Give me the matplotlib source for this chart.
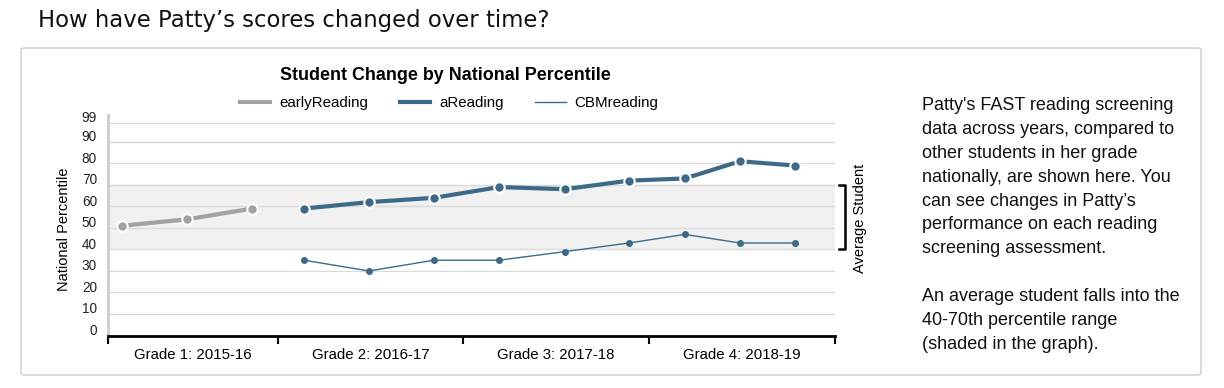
import matplotlib.pyplot as plt
import matplotlib.transforms as mtransforms
from matplotlib.patches import FancyBboxPatch
from matplotlib.lines import Line2D

# Data (x = position along the timeline, 10 units ~ 186 px)
early_x = [1.4, 7.9, 14.4]
early_y = [51, 54, 59]

a_x = [19.6, 26.1, 32.6, 39.1, 45.7, 52.1, 57.7, 63.2, 68.7]
a_y = [59, 62, 64, 69, 68, 72, 73, 81, 79]

cbm_x = [19.6, 26.1, 32.6, 39.1, 45.7, 52.1, 57.7, 63.2, 68.7]
cbm_y = [35, 30, 35, 35, 39, 43, 47, 43, 43]

grade_edges = [0, 17.0, 35.5, 54.1, 72.7]
grade_labels = ["Grade 1: 2015-16", "Grade 2: 2016-17", "Grade 3: 2017-18", "Grade 4: 2018-19"]
y_ticks = [0, 10, 20, 30, 40, 50, 60, 70, 80, 90, 99]

gray = "#a2a2a2"
blue = "#3d6a88"
font = "Liberation Sans"

fig = plt.figure(figsize=(12.24, 3.88), dpi=100)

# outer card
card = FancyBboxPatch((21 / 1224, 1 - 375 / 388), 1180 / 1224, 327 / 388,
                      boxstyle="round,pad=0,rounding_size=0.004",
                      transform=fig.transFigure, facecolor="none",
                      edgecolor="#d4d4d4", linewidth=1.2, zorder=-5)
fig.patches.append(card)

fig.text(38 / 1224, 1 - 20 / 388, "How have Patty\u2019s scores changed over time?",
         fontsize=16.4, family="DejaVu Sans", va="center", ha="left", color="#111111")

ax = fig.add_axes([108 / 1224, 1 - 335.5 / 388, 727 / 1224, 220.5 / 388])
ax.set_facecolor("none")
ax.set_xlim(grade_edges[0], grade_edges[-1])
ax.set_ylim(0, 102.5)

# average band
ax.axhspan(40, 70, color="#f1f1f1", zorder=0)
for t in y_ticks[1:]:
    ax.axhline(t, color="#dadada", linewidth=1, zorder=1)

ax.plot(early_x, early_y, color=gray, linewidth=3, marker="o", markersize=7.5,
        markeredgecolor="white", markeredgewidth=1.5, zorder=3)
ax.plot(a_x, a_y, color=blue, linewidth=3, marker="o", markersize=7.5,
        markeredgecolor="white", markeredgewidth=1.5, zorder=3)
ax.plot(cbm_x, cbm_y, color=blue, linewidth=1, marker="o", markersize=4,
        markeredgecolor=blue, zorder=3)

# y axis
ax.set_yticks(y_ticks)
ax.set_yticklabels([str(t) for t in y_ticks], fontsize=9.8, family=font, color="#222222")
ax.tick_params(axis="y", length=0, pad=8)
offset = mtransforms.ScaledTranslation(0, 6 / 100, fig.dpi_scale_trans)
for lbl in ax.get_yticklabels():
    lbl.set_transform(lbl.get_transform() + offset)
ax.set_ylabel("National Percentile", fontsize=10.5, family=font)
ax.yaxis.set_label_coords(-0.051, 0.48)

# x axis
ax.set_xticks(grade_edges)
ax.set_xticklabels([])
ax.tick_params(axis="x", length=6, width=1.5, color="black", direction="out")
centers = [(grade_edges[i] + grade_edges[i + 1]) / 2 for i in range(4)]
for c, lab in zip(centers, grade_labels):
    ax.text(c, -9, lab, ha="center", va="center", fontsize=10.8, family=font,
            transform=ax.transData, clip_on=False)

for s in ["top", "right"]:
    ax.spines[s].set_visible(False)
ax.spines["left"].set_color("#cccccc")
ax.spines["left"].set_linewidth(2)
ax.spines["bottom"].set_color("black")
ax.spines["bottom"].set_linewidth(2)

# average student bracket
yt = ax.get_yaxis_transform()
ax.plot([1.0055, 1.0138, 1.0138, 1.0055], [70, 70, 40, 40], color="black",
        linewidth=1.8, transform=yt, clip_on=False)
ax.text(1.034, 54.5, "Average Student", rotation=90, ha="center", va="center",
        fontsize=10.5, family=font, transform=yt)

# title + legend
fig.text(445.5 / 1224, 1 - 76 / 388, "Student Change by National Percentile",
         ha="center", va="center", fontsize=12.9, fontweight="bold", family=font)
handles = [Line2D([], [], color=gray, linewidth=3),
           Line2D([], [], color=blue, linewidth=3),
           Line2D([], [], color=blue, linewidth=1)]
fig.legend(handles, ["earlyReading", "aReading", "CBMreading"], ncol=3,
           loc="center", bbox_to_anchor=(449 / 1224, 1 - 103 / 388), frameon=False,
           prop={"family": font, "size": 10.9}, handlelength=2.0, columnspacing=2.1,
           handletextpad=0.6)

# side note
note = ("Patty's FAST reading screening\n"
        "data across years, compared to\n"
        "other students in her grade\n"
        "nationally, are shown here. You\n"
        "can see changes in Patty\u2019s\n"
        "performance on each reading\n"
        "screening assessment.\n"
        "\n"
        "An average student falls into the\n"
        "40-70th percentile range\n"
        "(shaded in the graph).")
fig.text(922 / 1224, 1 - 97 / 388, note, ha="left", va="top", fontsize=13,
         family=font, linespacing=1.53, color="#111111")

fig.savefig("out.png", dpi=100)
